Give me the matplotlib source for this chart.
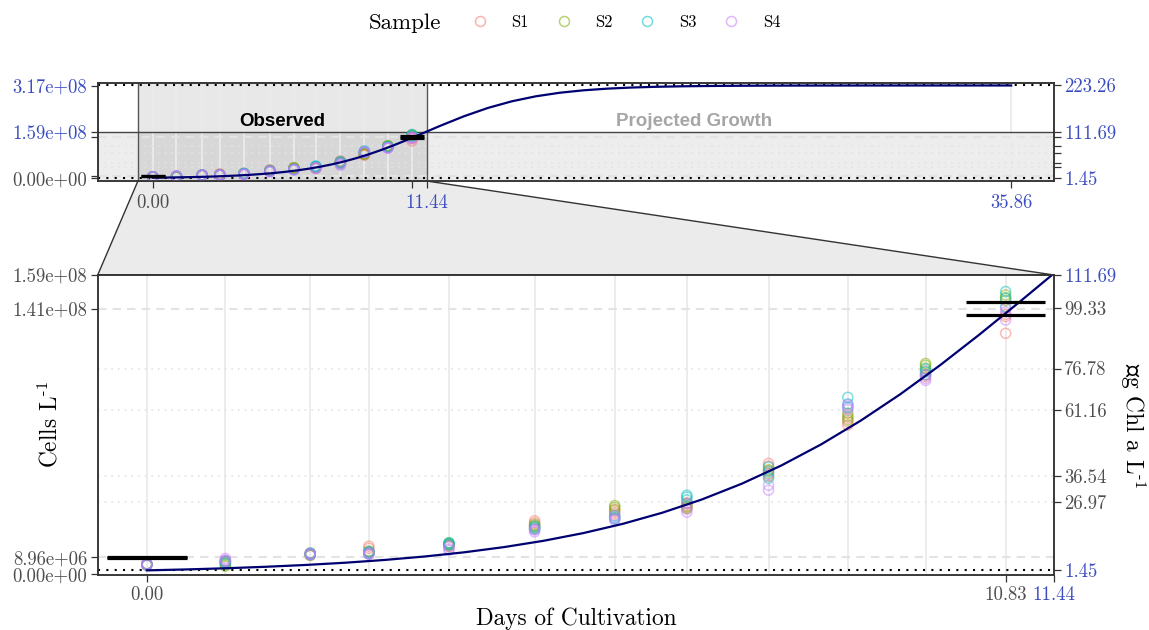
import matplotlib
matplotlib.use("Agg")
import matplotlib.pyplot as plt
from matplotlib.lines import Line2D
from matplotlib.patches import Polygon

plt.rcParams['font.family'] = ['cmr10', 'DejaVu Serif']
plt.rcParams['mathtext.fontset'] = 'cm'
plt.rcParams['axes.unicode_minus'] = False
plt.rcParams['axes.formatter.use_mathtext'] = True

# ---------------- data (cells in millions per litre) ----------------
days = [0.00, 0.99, 2.06, 2.80, 3.81, 4.89, 5.90, 6.81, 7.84, 8.84, 9.82, 10.83]
samples = ['S1', 'S2', 'S3', 'S4']
sample_colors = ['#F8766D', '#7CAE00', '#00BFC4', '#C77CFF']

s1_cells = [[5.0, 5.3, 5.6], [6.0, 6.8, 7.2], [10.2, 10.8, 11.2], [14.9, 13.8, 12.0],
            [15.5, 16.0, 14.8], [28.4, 27.3, 26.0], [34.5, 33.0, 32.0], [38.0, 36.5, 35.5],
            [58.9, 57.5, 55.0], [79.3, 81.0, 83.0], [106.0, 105.0, 108.0], [128.0, 136.9, 138.0]]
s2_cells = [[4.8, 5.2, 5.5], [4.3, 5.0, 6.0], [10.0, 10.5, 11.0], [11.0, 11.5, 12.3],
            [16.7, 16.0, 15.0], [26.5, 25.5, 24.8], [36.5, 35.5, 34.0], [37.5, 36.0, 35.0],
            [55.5, 53.5, 52.0], [85.5, 84.0, 82.0], [112.0, 111.0, 109.5], [148.4, 147.0, 145.5]]
s3_cells = [[5.0, 5.4, 5.2], [6.5, 7.0, 5.5], [10.4, 10.9, 11.3], [10.8, 11.6, 12.0],
            [16.7, 16.2, 15.6], [25.5, 24.5, 24.0], [31.0, 30.0, 29.5], [42.0, 41.0, 39.5],
            [57.0, 54.5, 51.0], [94.0, 90.5, 88.5], [109.0, 107.5, 106.0], [150.2, 146.6, 142.0]]
s4_cells = [[4.8, 5.1, 5.4], [8.4, 7.5, 6.8], [10.3, 10.7, 11.0], [10.6, 11.0, 11.3],
            [12.8, 13.5, 14.8], [23.5, 22.5, 24.0], [29.5, 28.7, 31.0], [33.0, 34.5, 37.5],
            [47.3, 44.7, 53.0], [90.0, 87.5, 89.0], [104.0, 103.0, 106.0], [141.3, 135.1, 139.5]]
sample_cells = [s1_cells, s2_cells, s3_cells, s4_cells]

# projected growth curve
curve_days = [0, 0.5, 1, 1.5, 2, 2.5, 3, 3.5, 4, 4.5, 5, 5.5, 6, 6.5, 7, 7.5, 8, 8.5,
              9, 9.5, 10, 10.5, 11, 11.5, 12, 13, 14, 15, 16, 17, 18, 19, 20, 21, 22,
              23, 24, 25, 26, 27, 28, 29, 30, 32, 34, 35.86]
curve_cells = [2.06, 2.56, 3.19, 3.97, 4.93, 6.12, 7.60, 9.42, 11.65, 14.40, 17.75, 21.83,
               26.76, 32.69, 39.74, 48.06, 57.76, 68.92, 81.55, 95.61, 110.96, 127.37,
               144.50, 161.98, 179.39, 212.37, 240.86, 263.62, 280.68, 292.88, 301.31,
               306.99, 310.76, 313.23, 314.85, 315.89, 316.57, 317.01, 317.29, 317.47,
               317.59, 317.66, 317.71, 317.76, 317.79, 317.80]

bar_days = [0.00, 10.83]
bar_low = [8.80, 137.9]
bar_high = [9.10, 144.5]

# axis ticks
cell_ticks = [0.0, 8.96, 141.0, 159.0, 317.0]
cell_labels = ['0.00e+00', '8.96e+06', '1.41e+08', '1.59e+08', '3.17e+08']
chl_ticks = [1.45, 26.97, 36.54, 61.16, 76.78, 99.33, 111.69, 223.26]
chl_labels = ['1.45', '26.97', '36.54', '61.16', '76.78', '99.33', '111.69', '223.26']
day_ticks = [0.00, 10.83, 11.44, 35.86]
day_labels = ['0.00', '10.83', '11.44', '35.86']

chl_per_mcell = 111.69 / 159.0   # right axis (ug Chl a / L) per million cells
zoom_x = (-0.62, 11.44)
zoom_y = (-0.4, 159.0)

# ---------------- style ----------------
W, H = 1149, 630
BLUE = '#3A4CC0'
GREY = '#4D4D4D'
DARK = '#333333'

fig = plt.figure(figsize=(W / 100, H / 100), dpi=100)
ax_top = fig.add_axes([97.7 / W, 1 - 181 / H, (1054 - 97.7) / W, (181 - 82.7) / H])
ax_bot = fig.add_axes([97.7 / W, 1 - 575 / H, (1054 - 97.7) / W, (575 - 275) / H])

top_ylim = (-9.2, 327.3)
ax_top.set_xlim(-2.3, 37.65)
ax_top.set_ylim(*top_ylim)
ax_bot.set_xlim(*zoom_x)
ax_bot.set_ylim(*zoom_y)


def draw_layers(ax, vgrid_days):
    for d in vgrid_days:
        ax.axvline(d, color='#EBEBEB', lw=1.3, zorder=0.6)
    for v in [8.96, 141.0]:
        ax.axhline(v, color='#E3E3E3', lw=1.5, ls=(0, (4, 3)), zorder=0.6)
    for v in [26.97, 36.54, 61.16, 76.78]:
        ax.axhline(v / chl_per_mcell, color='#E3E3E3', lw=1.2, ls=(0, (1, 3)), zorder=0.6)
    for v in [1.45, 223.26]:
        ax.axhline(v / chl_per_mcell, color='black', lw=1.5, ls=(0, (1, 3)), zorder=1.5)
    for cells, col in zip(sample_cells, sample_colors):
        xs, ys = [], []
        for d, reps in zip(days, cells):
            for r in reps:
                xs.append(d)
                ys.append(r)
        ax.scatter(xs, ys, s=52, facecolors='none', edgecolors=col, linewidths=1.1,
                   alpha=0.5, zorder=3)
    ax.plot(curve_days, curve_cells, color='#000070', lw=1.6, zorder=4)
    for d, lo, hi in zip(bar_days, bar_low, bar_high):
        ax.hlines([lo, hi], d - 0.5, d + 0.5, colors='black', lw=2.3, zorder=5)


draw_layers(ax_top, days + [35.86])
draw_layers(ax_bot, days)

# zoom indicators in the overview panel
ax_top.axvspan(zoom_x[0], zoom_x[1], color='black', alpha=0.09, lw=0, zorder=0.5)
ax_top.axhspan(top_ylim[0], zoom_y[1], color='black', alpha=0.07, lw=0, zorder=0.5)
ax_top.axvline(zoom_x[0], color='#555555', lw=1.0, zorder=2)
ax_top.axvline(zoom_x[1], color='#555555', lw=1.0, zorder=2)
ax_top.axhline(zoom_y[1], color='#444444', lw=1.0, zorder=2)

ax_top.text(sum(zoom_x) / 2, 195, 'Observed', family='Liberation Sans', fontsize=13.5,
            fontweight='bold', color='black', ha='center', va='center', zorder=6)
ax_top.text(22.6, 195, 'Projected Growth', family='Liberation Sans', fontsize=13.5,
            fontweight='bold', color='#A6A6A6', ha='center', va='center', zorder=6)

# ---------------- axes / ticks ----------------
def set_ticks(ax, axis, ticks, labels, colors):
    if axis == 'x':
        ax.set_xticks(ticks, labels)
        tl = ax.get_xticklabels()
    else:
        ax.set_yticks(ticks, labels)
        tl = ax.get_yticklabels()
    for t, c in zip(tl, colors):
        t.set_color(c)


for ax in (ax_top, ax_bot):
    for sp in ax.spines.values():
        sp.set_color(DARK)
        sp.set_linewidth(1.1)

ax_top2 = ax_top.twinx()
ax_top2.set_ylim(top_ylim[0] * chl_per_mcell, top_ylim[1] * chl_per_mcell)
ax_bot2 = ax_bot.twinx()
ax_bot2.set_ylim(zoom_y[0] * chl_per_mcell, zoom_y[1] * chl_per_mcell)
for ax in (ax_top2, ax_bot2):
    for sp in ax.spines.values():
        sp.set_color(DARK)
        sp.set_linewidth(1.1)

# top panel
set_ticks(ax_top, 'x', [0.00, 10.83, 11.44, 35.86], ['0.00', '', '11.44', '35.86'],
          [GREY, GREY, BLUE, BLUE])
set_ticks(ax_top, 'y', cell_ticks,
          ['0.00e+00', '', '', '1.59e+08', '3.17e+08'], [GREY, GREY, GREY, BLUE, BLUE])
set_ticks(ax_top2, 'y', chl_ticks,
          ['1.45', '', '', '', '', '', '111.69', '223.26'], [BLUE] + [GREY] * 5 + [BLUE, BLUE])

# bottom panel
set_ticks(ax_bot, 'x', [0.00, 10.83, 11.44], ['0.00', '10.83', '11.44'], [GREY, GREY, BLUE])
set_ticks(ax_bot, 'y', cell_ticks[:4], cell_labels[:4], [GREY] * 4)
set_ticks(ax_bot2, 'y', chl_ticks[:7], chl_labels[:7], [BLUE] + [GREY] * 5 + [BLUE])

for ax in (ax_top, ax_bot, ax_top2, ax_bot2):
    ax.tick_params(length=5, width=0.9, color=DARK, labelsize=13.5, pad=2.5)
ax_top.tick_params(axis='x', pad=4.5)
ax_bot.tick_params(axis='x', pad=3.0)

# ---------------- connector between panels ----------------
fig.canvas.draw()
xl = ax_top.transData.transform((zoom_x[0], 0))[0]
xr = ax_top.transData.transform((zoom_x[1], 0))[0]
yb = ax_top.transAxes.transform((0, 0))[1]
bl = ax_bot.transAxes.transform((0, 1))
br = ax_bot.transAxes.transform((1, 1))
pts = fig.transFigure.inverted().transform([(xl, yb), (xr, yb), tuple(br), tuple(bl)])
fig.add_artist(Polygon(pts, closed=True, transform=fig.transFigure, facecolor='#EBEBEB',
                       edgecolor=DARK, lw=1.0, zorder=0))

# ---------------- labels & legend ----------------
fig.text(576 / W, 1 - 619 / H, 'Days of Cultivation', fontsize=16.8, ha='center', va='center')
fig.text(50 / W, 1 - 425 / H, r'Cells L$^{\text{-1}}$', fontsize=16.8, rotation=90,
         ha='center', va='center')
fig.text(1133 / W, 1 - 425 / H, 'μg Chl a L$^{\\text{-1}}$', fontsize=16.8, rotation=270,
         ha='center', va='center')

fig.text(369 / W, 1 - 23 / H, 'Sample', fontsize=16.5, ha='left', va='center')
handles = [Line2D([], [], ls='none', marker='o', markersize=7.2, markerfacecolor='none',
                  markeredgecolor=c, markeredgewidth=1.1, alpha=0.55) for c in sample_colors]
fig.legend(handles, samples, loc='center', bbox_to_anchor=(626 / W, 1 - 22 / H), ncol=4,
           frameon=False, fontsize=12, handlelength=1.0, handletextpad=1.4,
           columnspacing=1.58, borderpad=0)

fig.savefig('out.png', dpi=100)
